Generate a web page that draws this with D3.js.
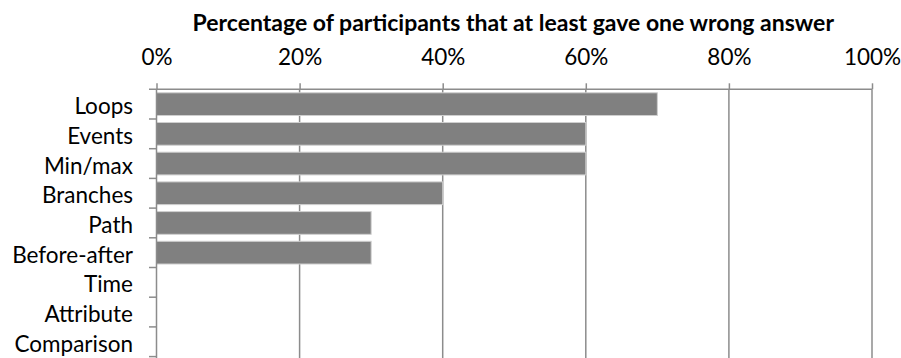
<!DOCTYPE html>
<html>
<head>
<meta charset="utf-8">
<script src="https://cdn.jsdelivr.net/npm/d3@7"></script>
<style>
  html, body { margin: 0; padding: 0; background: #fff; }
  svg text { font-family: Lato, "Open Sans", sans-serif; fill: #000; }
</style>
</head>
<body>
<svg id="chart" width="901" height="358"></svg>
<script>
// Share of participants who gave at least one wrong answer, per question type
const categories = ["Loops", "Events", "Min/max", "Branches", "Path", "Before-after", "Time", "Attribute", "Comparison"];
const values = [0.70, 0.60, 0.60, 0.40, 0.30, 0.30, 0, 0, 0];
const tickValues = [0, 0.2, 0.4, 0.6, 0.8, 1.0];
const titleText = "Percentage of participants that at least gave one wrong answer";

const svg = d3.select("#chart");
const margin = { top: 89.3, left: 156.5, right: 29, bottom: 1.4 };
const W = 901, H = 358;

const x = d3.scaleLinear().domain([0, 1]).range([margin.left, W - margin.right]);
const y = d3.scaleBand().domain(categories).range([margin.top, H - margin.bottom]).paddingInner(0.235).paddingOuter(0.1175);

const gridColor = "#8c8c8c";
const fontSize = 22.5;

// vertical gridlines
svg.append("g")
  .selectAll("line")
  .data(tickValues.slice(1))
  .join("line")
  .attr("x1", d => x(d)).attr("x2", d => x(d))
  .attr("y1", margin.top).attr("y2", H)
  .attr("stroke", gridColor).attr("stroke-width", 1.5);

// bars
svg.append("g")
  .selectAll("rect")
  .data(categories.map((c, i) => ({ c, v: values[i] })).filter(d => d.v > 0))
  .join("rect")
  .attr("x", x(0))
  .attr("y", d => y(d.c))
  .attr("width", d => x(d.v) - x(0))
  .attr("height", y.bandwidth())
  .attr("fill", "#808080")
  .attr("stroke", "#cfcfcf")
  .attr("stroke-width", 1);

// top percentage axis
const xAxis = d3.axisTop(x)
  .tickValues(tickValues)
  .tickFormat(d3.format(".0%"))
  .tickSizeInner(6)
  .tickSizeOuter(0)
  .tickPadding(18);
const gx = svg.append("g").attr("transform", `translate(0,${margin.top})`).call(xAxis);
gx.select(".domain").remove();
gx.append("line")
  .attr("x1", margin.left - 7.5).attr("x2", x(1))
  .attr("stroke", gridColor).attr("stroke-width", 1.5);
gx.selectAll(".tick line").attr("stroke", gridColor).attr("stroke-width", 1.5);
gx.selectAll(".tick text")
  .attr("font-size", fontSize)
  .attr("font-family", "Lato, 'Open Sans', sans-serif")
  .attr("fill", "#000");

// left category axis: ticks at band boundaries
const bounds = d3.range(1, categories.length + 1).map(i => margin.top + i * (H - margin.bottom - margin.top) / categories.length);
svg.append("line")
  .attr("x1", x(0)).attr("x2", x(0))
  .attr("y1", margin.top).attr("y2", H)
  .attr("stroke", gridColor).attr("stroke-width", 1.5);
svg.append("g")
  .selectAll("line")
  .data(bounds)
  .join("line")
  .attr("x1", margin.left - 7.5).attr("x2", margin.left)
  .attr("y1", d => d).attr("y2", d => d)
  .attr("stroke", gridColor).attr("stroke-width", 1.5);

svg.append("g")
  .selectAll("text")
  .data(categories)
  .join("text")
  .attr("x", 133)
  .attr("y", d => y(d) + y.bandwidth() / 2)
  .attr("dy", "0.45em")
  .attr("text-anchor", "end")
  .attr("font-size", fontSize)
  .text(d => d);

// title
svg.append("text")
  .attr("x", (x(0) + x(1)) / 2 - 1)
  .attr("y", 31)
  .attr("text-anchor", "middle")
  .attr("font-size", 23)
  .attr("font-weight", "bold")
  .text(titleText);
</script>
</body>
</html>
